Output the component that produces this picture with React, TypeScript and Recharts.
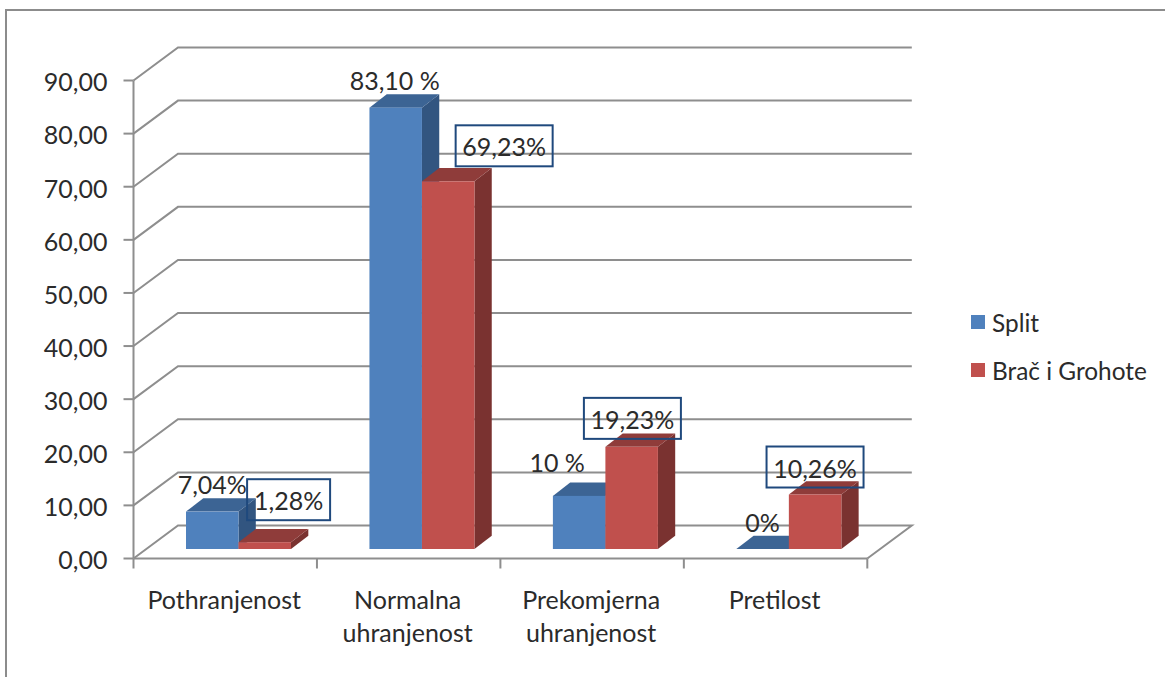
import { BarChart, Bar, XAxis, YAxis, CartesianGrid, LabelList, Legend } from 'recharts';

const categories = ['Pothranjenost', 'Normalna uhranjenost', 'Prekomjerna uhranjenost', 'Pretilost'];
const splitValues = [7.04, 83.1, 10, 0];
const bracValues = [1.28, 69.23, 19.23, 10.26];
const splitLabels = ['7,04%', '83,10 %', '10 %', '0%'];
const bracLabels = ['1,28%', '69,23%', '19,23%', '10,26%'];
const yTicks = [0, 10, 20, 30, 40, 50, 60, 70, 80, 90];

const chartData = categories.map((name, i) => ({
  name,
  split: splitValues[i],
  brac: bracValues[i],
}));

// plot box of the front plane
const LEFT = 133.5;
const RIGHT = 867.3;
const TOP = 80.5;
const BOTTOM = 558.5;
const BAND = (RIGHT - LEFT) / categories.length;

// fake 3D offsets
const WALL = { dx: 44.5, dy: -33 };
const BAR_PLANE = { dx: 13.5, dy: -9.5 };
const BAR_DEPTH = { dx: 17.3, dy: -13.3 };

const FONT = 'Lato, sans-serif';
const FONT_SIZE = 25;
const TEXT_COLOR = '#2b2b2b';
const LINE_COLOR = '#8e8e8e';
const BOX_COLOR = '#1f497d';

// hand placed labels, relative to the bar's front top edge
const splitNudge = [
  [0, -18],
  [-1, -18],
  [-22, -24],
  [0, -17],
];
const bracBox = [
  [8.6, -63, 83],
  [33.7, -56, 97],
  [-21.5, -49, 97],
  [-22.3, -48, 97],
];
const BOX_HEIGHT = 41;

const Bar3D = ({ x, y, width, height, front, top, side }: any) => {
  const fx = x + BAR_PLANE.dx;
  const fy = y + BAR_PLANE.dy;
  const { dx, dy } = BAR_DEPTH;
  return (
    <g>
      <path
        d={`M${fx + width},${fy} l${dx},${dy} v${height} l${-dx},${-dy} Z`}
        fill={side}
      />
      <path
        d={`M${fx},${fy} l${dx},${dy} h${width} l${-dx},${-dy} Z`}
        fill={top}
      />
      <rect x={fx} y={fy} width={width} height={height} fill={front} />
    </g>
  );
};

const gridLine = ({ x1, x2, y1, key }: any) => {
  const isFloor = Math.abs(y1 - BOTTOM) < 1;
  const { dx, dy } = WALL;
  return (
    <path
      key={key}
      d={
        `M${x1},${y1} l${dx},${dy} H${x2 + dx}` +
        (isFloor ? ` l${-dx},${-dy}` : '')
      }
      fill="none"
      stroke={LINE_COLOR}
      strokeWidth={2}
    />
  );
};

const CategoryTick = ({ x, y, payload, index, visibleTicksCount }: any) => {
  const half = BAND / 2;
  const words = String(payload.value).split(' ');
  return (
    <g>
      <line x1={x - half} x2={x - half} y1={y} y2={y + 10} stroke={LINE_COLOR} strokeWidth={2} />
      {index === visibleTicksCount - 1 && (
        <line x1={x + half} x2={x + half} y1={y} y2={y + 10} stroke={LINE_COLOR} strokeWidth={2} />
      )}
      <text
        textAnchor="middle"
        fontFamily={FONT}
        fontSize={FONT_SIZE}
        fill={TEXT_COLOR}
      >
        {words.map((w, i) => (
          <tspan key={i} x={x - 1} y={y + 50 + i * 33}>
            {w}
          </tspan>
        ))}
      </text>
    </g>
  );
};

const SplitLabel = ({ x, y, width, index }: any) => {
  const [nx, ny] = splitNudge[index];
  return (
    <text
      x={x + BAR_PLANE.dx + width / 2 + nx}
      y={y + BAR_PLANE.dy + ny}
      textAnchor="middle"
      fontFamily={FONT}
      fontSize={FONT_SIZE}
      fill={TEXT_COLOR}
    >
      {splitLabels[index]}
    </text>
  );
};

const BracLabel = ({ x, y, index }: any) => {
  const [bx, by, bw] = bracBox[index];
  const left = x + BAR_PLANE.dx + bx;
  const top = y + BAR_PLANE.dy + by;
  return (
    <g>
      <rect
        x={left}
        y={top}
        width={bw}
        height={BOX_HEIGHT}
        fill="none"
        stroke={BOX_COLOR}
        strokeWidth={2}
      />
      <text
        x={left + bw / 2}
        y={top + 31}
        textAnchor="middle"
        fontFamily={FONT}
        fontSize={FONT_SIZE}
        fill={TEXT_COLOR}
      >
        {bracLabels[index]}
      </text>
    </g>
  );
};

const LegendBox = ({ payload }: any) => (
  <div>
    {(payload || []).map((item: any) => (
      <div
        key={item.value}
        style={{ display: 'flex', alignItems: 'center', height: 48, fontFamily: FONT, fontSize: 24.4, color: TEXT_COLOR, whiteSpace: 'nowrap' }}
      >
        <span style={{ width: 14, height: 14, background: item.color, marginRight: 7 }} />
        {item.value}
      </div>
    ))}
  </div>
);

export default function App() {
  return (
    <div style={{ position: 'absolute', left: 0, top: 0, width: 1165, height: 677, background: '#fff', overflow: 'hidden' }}>
      <div
        style={{
          position: 'absolute',
          left: 5,
          top: 9,
          width: 1160,
          height: 668,
          boxSizing: 'border-box',
          borderLeft: '2px solid #8c8c8c',
          borderTop: '2px solid #8c8c8c',
        }}
      />
      <BarChart
        width={1165}
        height={677}
        data={chartData}
        barSize={52.5}
        barGap={0}
        margin={{ top: TOP, right: 1165 - RIGHT, left: LEFT - 100, bottom: 677 - BOTTOM - 60 }}
      >
        <CartesianGrid vertical={false} horizontal={gridLine} />
        <XAxis
          dataKey="name"
          height={60}
          interval={0}
          tickLine={false}
          tickSize={0}
          tickMargin={0}
          axisLine={{ stroke: LINE_COLOR, strokeWidth: 2 }}
          tick={<CategoryTick />}
        />
        <YAxis
          width={100}
          domain={[0, 90]}
          ticks={yTicks}
          interval={0}
          tickSize={10}
          tickMargin={16}
          axisLine={{ stroke: LINE_COLOR, strokeWidth: 2 }}
          tickLine={{ stroke: LINE_COLOR, strokeWidth: 2 }}
          tick={{ fontFamily: FONT, fontSize: FONT_SIZE, fill: TEXT_COLOR, dy: 2 }}
          tickFormatter={(v: number) => v.toFixed(2).replace('.', ',')}
        />
        <Legend
          layout="horizontal"
          verticalAlign="middle"
          align="center"
          itemSorter={null}
          wrapperStyle={{ left: 971, top: 298, width: 190 }}
          content={<LegendBox />}
        />
        <Bar
          dataKey="split"
          name="Split"
          fill="#4f81bd"
          isAnimationActive={false}
          shape={(p: any) => <Bar3D {...p} front="#4f81bd" top="#3c6494" side="#325580" />}
        >
          <LabelList dataKey="split" content={<SplitLabel />} />
        </Bar>
        <Bar
          dataKey="brac"
          name="Brač i Grohote"
          fill="#c0504d"
          isAnimationActive={false}
          shape={(p: any) => <Bar3D {...p} front="#c0504d" top="#8f3c3a" side="#7a3230" />}
        >
          <LabelList dataKey="brac" content={<BracLabel />} />
        </Bar>
      </BarChart>
    </div>
  );
}
